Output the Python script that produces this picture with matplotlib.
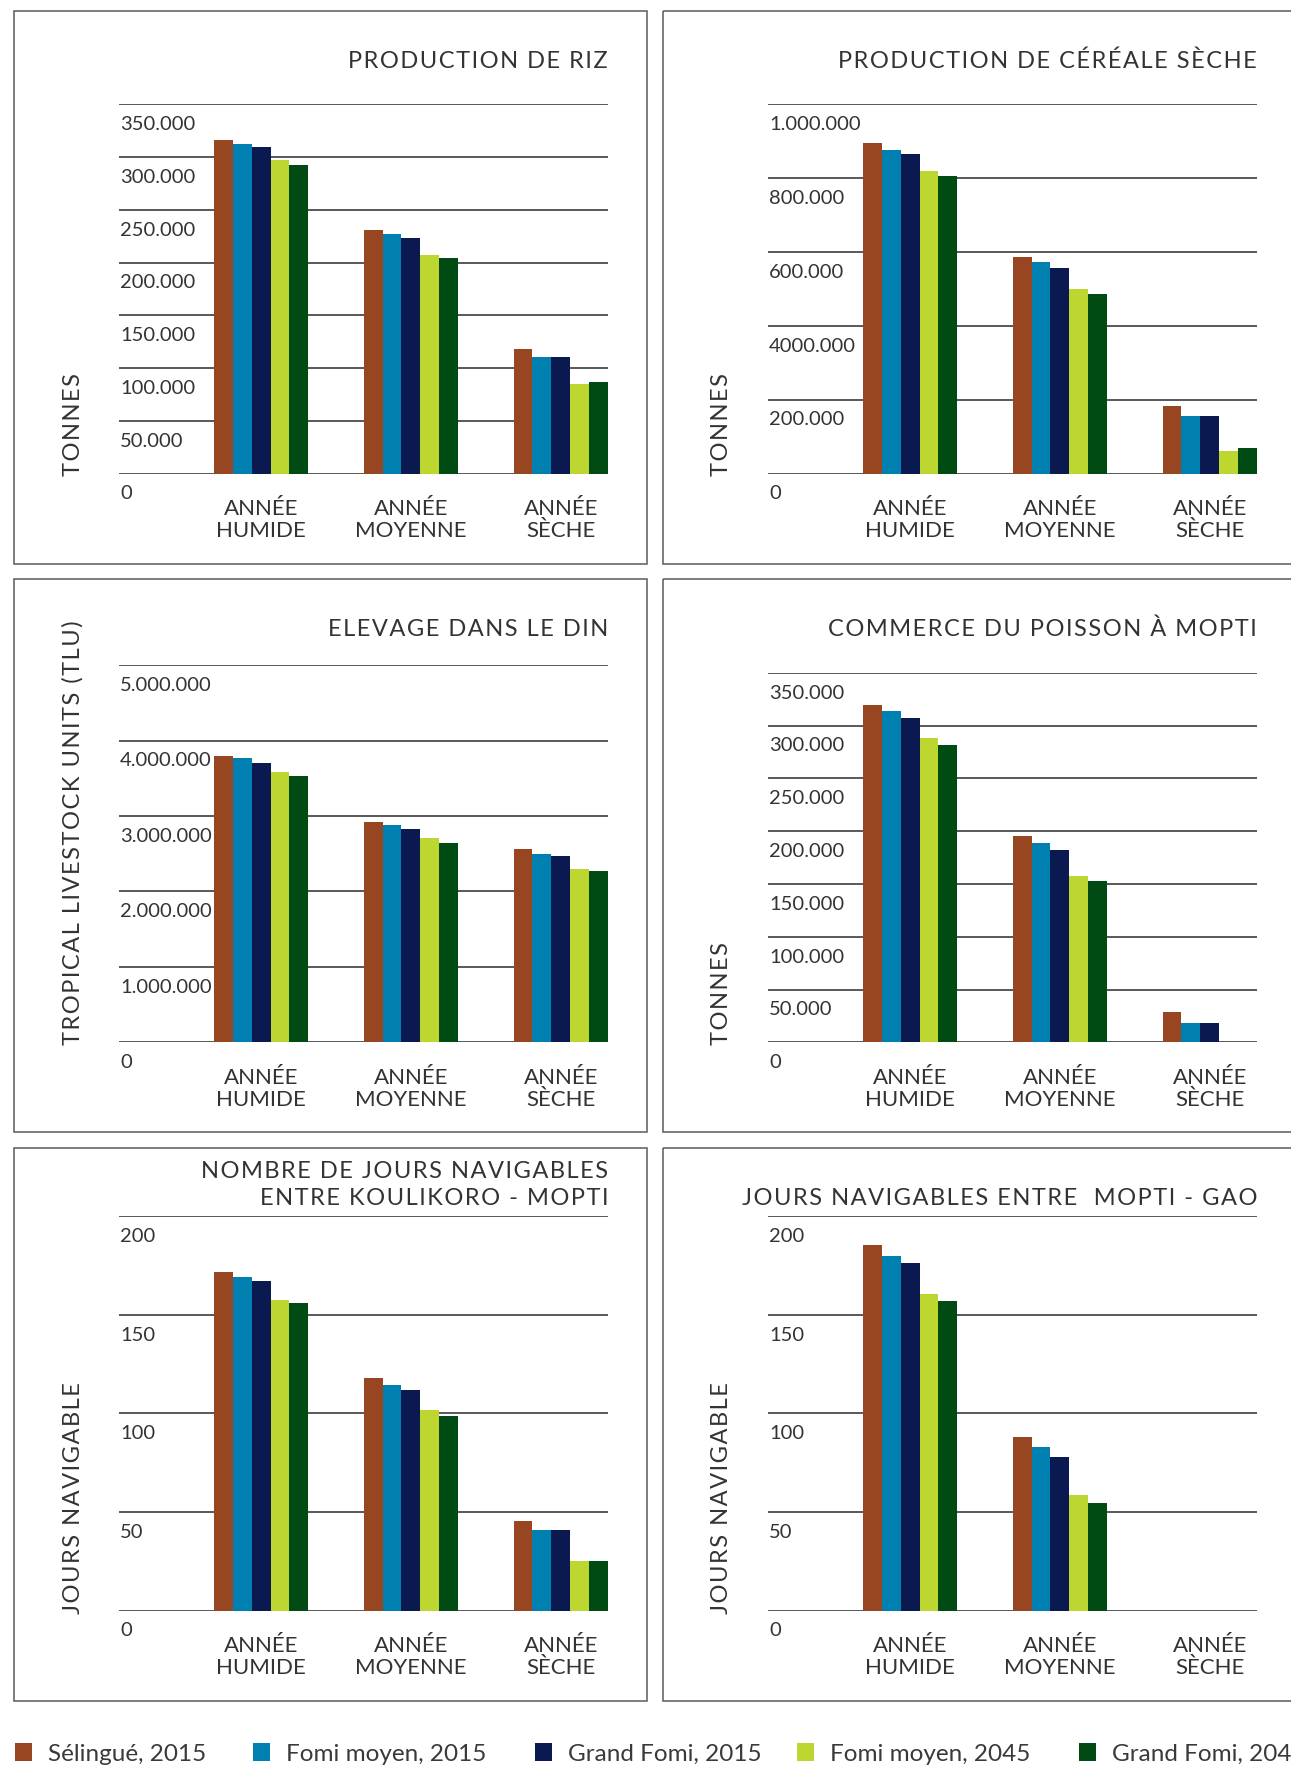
import matplotlib
matplotlib.use("Agg")
import matplotlib.pyplot as plt
from matplotlib import transforms
from matplotlib.patches import Rectangle
import numpy as np

W, H = 1291, 1767
DPI = 100

FONT = ["Lato", "DejaVu Sans"]
LEG_FONT = ["Liberation Sans Narrow", "Lato", "DejaVu Sans"]
plt.rcParams["font.family"] = FONT
TXT = "#333333"

# ---- data ----
categories = [("ANNÉE", "HUMIDE"), ("ANNÉE", "MOYENNE"), ("ANNÉE", "SÈCHE")]
series = ["Sélingué, 2015", "Fomi moyen, 2015", "Grand Fomi, 2015",
          "Fomi moyen, 2045", "Grand Fomi, 2045"]
colors = ["#984522", "#0080B0", "#0A1950", "#BDD630", "#004B14"]

# each row = one series, values for humide / moyenne / seche
riz = [[316000, 231000, 118000],
       [312500, 227000, 110500],
       [309500, 223500, 110500],
       [297000, 207500, 85000],
       [292500, 204500, 86500]]
cereale = [[895000, 586000, 182000],
           [876000, 573000, 155000],
           [866000, 556000, 155000],
           [820000, 500000, 61000],
           [806000, 486000, 69000]]
elevage = [[3794000, 2922000, 2564000],
           [3770000, 2882000, 2495000],
           [3701000, 2828000, 2471000],
           [3584000, 2706000, 2299000],
           [3529000, 2642000, 2270000]]
poisson = [[319500, 195500, 28700],
           [314000, 189000, 18200],
           [307300, 182200, 18200],
           [288300, 157700, 0],
           [281700, 152800, 0]]
koulikoro = [[171.7, 118.0, 45.4],
             [169.2, 114.4, 40.9],
             [167.2, 111.8, 40.9],
             [157.4, 101.7, 25.1],
             [155.9, 98.7, 25.1]]
gao = [[185.4, 88.0, 0],
       [179.7, 82.9, 0],
       [176.2, 77.9, 0],
       [160.6, 58.5, 0],
       [157.0, 54.6, 0]]

ticks_t350 = [0, 50000, 100000, 150000, 200000, 250000, 300000, 350000]
labels_t350 = ["0", "50.000", "100.000", "150.000", "200.000", "250.000", "300.000", "350.000"]
ticks_cer = [0, 200000, 400000, 600000, 800000, 1000000]
labels_cer = ["0", "200.000", "4000.000", "600.000", "800.000", "1.000.000"]
ticks_tlu = [0, 1000000, 2000000, 3000000, 4000000, 5000000]
labels_tlu = ["0", "1.000.000", "2.000.000", "3.000.000", "4.000.000", "5.000.000"]
ticks_days = [0, 50, 100, 150, 200]
labels_days = ["0", "50", "100", "150", "200"]

fig = plt.figure(figsize=(W / DPI, H / DPI), dpi=DPI)
fig.patch.set_facecolor("white")
# pixel transform, origin top-left
px = transforms.Affine2D().scale(1 / DPI, -1 / DPI).translate(0, H / DPI) + fig.dpi_scale_trans


def track(s):
    return "\u200a".join(s)


def panel(col, box_top, ax_top, base, titles, ylabel, data, ticks, labels):
    bx = 14 if col == 0 else 663
    ax0 = 119 if col == 0 else 768
    ax1 = ax0 + 489
    # box (y grows downwards in px)
    fig.add_artist(Rectangle((bx, box_top), 633, 553, transform=px,
                             fill=False, edgecolor="#5a5a5a", lw=1.1))
    ax = fig.add_axes([ax0 / W, 1 - base / H, (ax1 - ax0) / W, (base - ax_top) / H])
    ax.set_xlim(-0.948, 2.315)
    ax.set_ylim(0, ticks[-1])
    x = np.arange(len(categories))
    bw = 0.126
    for i in range(len(series)):
        ax.bar(x + (i - 2) * bw, data[i], bw, color=colors[i], lw=0, zorder=3)
    ax.set_yticks(ticks)
    ax.yaxis.grid(True, color="#3c3c3c", lw=1.2, zorder=0)
    ax.set_axisbelow(True)
    ax.tick_params(left=False, bottom=False, labelleft=False, labelbottom=False)
    for sp in ax.spines.values():
        sp.set_visible(False)
    ax.set_facecolor("none")
    ax.set_xticks([])
    # tick labels hanging below their gridlines
    tr = transforms.offset_copy(transforms.blended_transform_factory(ax.transAxes, ax.transData),
                                fig=fig, x=1, y=-25.8, units="dots")
    for t, l in zip(ticks, labels):
        ax.text(0, t, l, transform=tr, ha="left", va="baseline", fontsize=14.5, color=TXT)
    # category labels
    tr1 = transforms.offset_copy(ax.transData, fig=fig, y=-41.5, units="dots")
    tr2 = transforms.offset_copy(ax.transData, fig=fig, y=-63.7, units="dots")
    for xc, (l1, l2) in zip(x, categories):
        ax.text(xc, 0, l1, transform=tr1, ha="center", va="baseline", fontsize=16, color=TXT)
        ax.text(xc, 0, l2, transform=tr2, ha="center", va="baseline", fontsize=16, color=TXT)
    # title (right aligned to gridlines)
    for k, t in enumerate(titles):
        yb = box_top + 57 - (len(titles) - 1 - k) * 27.5 if len(titles) > 1 else box_top + 57
        fig.text(ax1, yb, track(t), transform=px, ha="right", va="baseline",
                 fontsize=17, color=TXT)
    # y label
    fig.text(ax0 - 46, base + 3, track(ylabel), transform=px, rotation=90,
             ha="center", va="bottom", fontsize=17, color=TXT)
    return ax


panel(0, 11, 104.3, 473.5, ["PRODUCTION DE RIZ"], "TONNES", riz, ticks_t350, labels_t350)
panel(1, 11, 104.3, 473.5, ["PRODUCTION DE CÉRÉALE SÈCHE"], "TONNES", cereale, ticks_cer, labels_cer)
panel(0, 579, 665.1, 1042.4, ["ELEVAGE DANS LE DIN"], "TROPICAL LIVESTOCK UNITS (TLU)",
      elevage, ticks_tlu, labels_tlu)
panel(1, 579, 672.8, 1042.4, ["COMMERCE DU POISSON À MOPTI"], "TONNES", poisson,
      ticks_t350, labels_t350)
panel(0, 1148, 1216.2, 1610.6, ["NOMBRE DE JOURS NAVIGABLES", "ENTRE KOULIKORO - MOPTI"],
      "JOURS NAVIGABLE", koulikoro, ticks_days, labels_days)
panel(1, 1148, 1216.2, 1610.6, ["JOURS NAVIGABLES ENTRE  MOPTI - GAO"],
      "JOURS NAVIGABLE", gao, ticks_days, labels_days)

# legend row
leg_sq = [15, 253, 535, 797, 1079]
for xs, c, s in zip(leg_sq, colors, series):
    fig.add_artist(Rectangle((xs, 1743.5), 16.5, 17.5, transform=px, color=c, lw=0))
    fig.text(xs + 33, 1761, s, transform=px, ha="left", va="baseline",
             fontsize=17.5, color="#3a3a3a", family=LEG_FONT)

fig.savefig("out.png", dpi=DPI, facecolor="white")
